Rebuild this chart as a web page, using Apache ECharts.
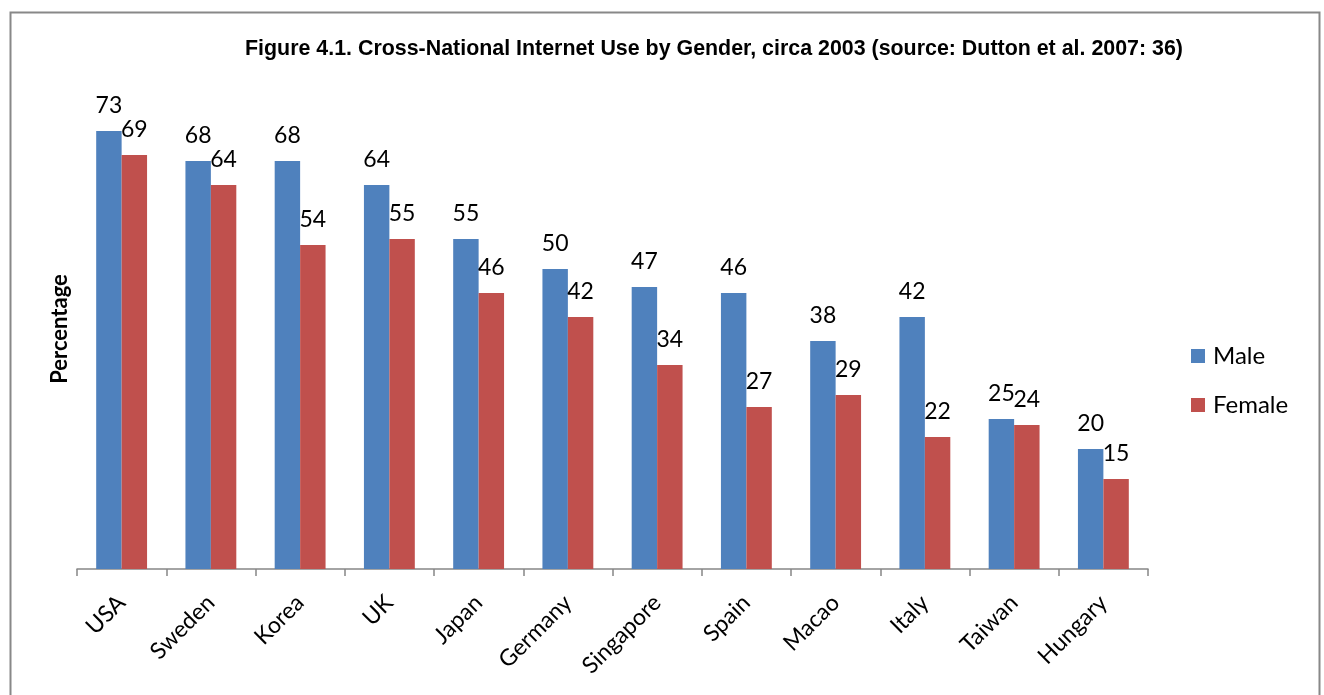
<!DOCTYPE html>
<html><head><meta charset="utf-8">
<script src="https://cdn.jsdelivr.net/npm/echarts@6/dist/echarts.min.js"></script>
<style>html,body{margin:0;padding:0;background:#fff}#c{width:1324px;height:695px}</style>
</head><body><div id="c"></div>
<script>
const categories = ['USA','Sweden','Korea','UK','Japan','Germany','Singapore','Spain','Macao','Italy','Taiwan','Hungary'];
const male = [73,68,68,64,55,50,47,46,38,42,25,20];
const female = [69,64,54,55,46,42,34,27,29,22,24,15];
const titleText = 'Figure 4.1. Cross-National Internet Use by Gender, circa 2003 (source: Dutton et al. 2007: 36)';
const yName = 'Percentage';

const chart = echarts.init(document.getElementById('c'), null, {renderer:'canvas'});
const lbl = {show:true, position:'top', distance:14, color:'#000', fontFamily:'Lato', fontSize:23};
chart.setOption({
  animation:false,
  graphic:[{type:'rect', left:8, top:10, shape:{width:1309, height:700}, style:{fill:'none', stroke:'#888', lineWidth:2}}],
  title:{text:titleText, left:709, top:34, textAlign:'center',
    textStyle:{fontFamily:'Liberation Sans', fontWeight:'bold', fontSize:21.4, color:'#000'}},
  legend:{orient:'vertical', left:1191, top:344, padding:0, itemWidth:14, itemHeight:14, itemGap:25,
    icon:'rect', textStyle:{fontFamily:'Lato', fontSize:24, color:'#000', padding:[0,0,0,3]}},
  grid:{left:77, right:176, top:89, bottom:126},
  xAxis:{type:'category', data:categories,
    axisLine:{lineStyle:{color:'#868686', width:1.5}},
    axisTick:{show:true, length:7, alignWithLabel:false, lineStyle:{color:'#868686', width:1.5}},
    axisLabel:{rotate:45, margin:30, fontFamily:'Lato', fontSize:23, color:'#000', interval:0}},
  yAxis:{type:'value', min:0, max:80, name:yName, nameLocation:'middle', nameGap:6,
    nameTextStyle:{fontFamily:'Lato', fontWeight:'bold', fontSize:22, color:'#000'},
    axisLine:{show:false}, axisTick:{show:false}, axisLabel:{show:false}, splitLine:{show:false}},
  series:[
    {name:'Male', type:'bar', data:male, barGap:'0%', barCategoryGap:'43%',
      itemStyle:{color:'#4F81BD'}, label:lbl},
    {name:'Female', type:'bar', data:female, barGap:'0%', barCategoryGap:'43%',
      itemStyle:{color:'#C0504D'}, label:lbl}
  ]
});
</script></body></html>
